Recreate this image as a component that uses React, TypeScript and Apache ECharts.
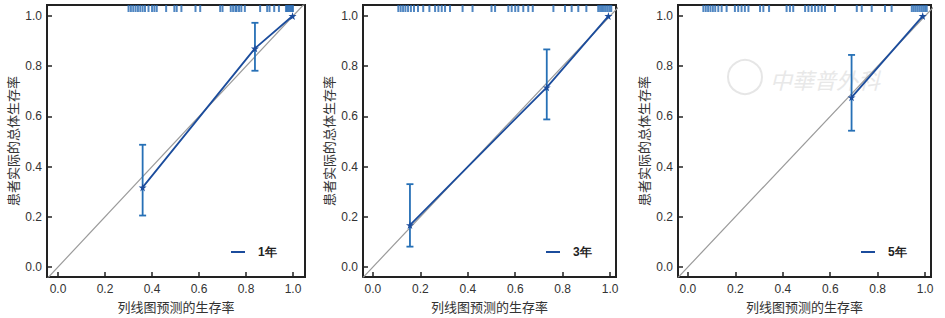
import React, { useEffect, useRef } from "react";
import * as echarts from "echarts";

// ---- data ----
const panelNames = ["1年", "3年", "5年"];

const pred1 = [0.36, 0.838, 0.998];
const obs1 = [0.317, 0.871, 1.0];
const lo1 = [0.205, 0.782];
const hi1 = [0.487, 0.973];

const pred3 = [0.156, 0.733, 0.993];
const obs3 = [0.167, 0.716, 1.0];
const lo3 = [0.081, 0.588];
const hi3 = [0.33, 0.867];

const pred5 = [0.69, 0.99];
const obs5 = [0.676, 1.0];
const lo5 = [0.543];
const hi5 = [0.845];

const rug1 = [0.3, 0.31, 0.32, 0.33, 0.34, 0.35, 0.36, 0.37, 0.385, 0.4, 0.41, 0.42, 0.46, 0.495, 0.505, 0.525, 0.585, 0.605, 0.69, 0.7, 0.735, 0.745, 0.755, 0.76, 0.77, 0.78, 0.795, 0.86, 0.89, 0.9, 0.92, 0.94, 0.97, 0.975, 0.98, 0.985, 0.99, 0.995, 1.0];
const rug3 = [0.107, 0.117, 0.127, 0.137, 0.148, 0.16, 0.173, 0.19, 0.212, 0.238, 0.262, 0.276, 0.29, 0.304, 0.325, 0.378, 0.42, 0.5, 0.515, 0.571, 0.585, 0.6, 0.613, 0.634, 0.655, 0.674, 0.761, 0.81, 0.838, 0.866, 0.9, 0.95, 0.958, 0.966, 0.974, 0.982, 0.99, 0.998, 1.005];
const rug5 = [0.065, 0.075, 0.085, 0.095, 0.105, 0.115, 0.128, 0.142, 0.163, 0.198, 0.212, 0.226, 0.24, 0.255, 0.304, 0.318, 0.342, 0.416, 0.43, 0.444, 0.494, 0.508, 0.522, 0.536, 0.55, 0.564, 0.578, 0.62, 0.712, 0.733, 0.775, 0.831, 0.859, 0.944, 0.952, 0.96, 0.968, 0.976, 0.984, 0.992, 1.0, 1.007];

const xMins = [-0.047, -0.042, -0.042];
const xMaxs = [1.051, 1.025, 1.025];
const yMin = -0.04;
const yMax = 1.044;

const LINE = "#1b4c9c";
const ERR = "#2670b6";
const RUG = "#2569b3";
const STAR = "path://M50,0 L61,35 L98,35 L68,57 L79,91 L50,70 L21,91 L32,57 L2,35 L39,35 Z";

const grids = [
  { left: 47, top: 5, width: 258, height: 272 },
  { left: 363, top: 5, width: 253, height: 272 },
  { left: 678, top: 5, width: 253, height: 272 },
];
const legendPos = [
  { left: 231, top: 246 },
  { left: 546, top: 246 },
  { left: 861, top: 246 },
];

const fmt = (v: number) =>
  Math.abs(v * 5 - Math.round(v * 5)) < 1e-6 ? v.toFixed(1) : "";

export default function App() {
  const ref = useRef<HTMLDivElement>(null);
  useEffect(() => {
    if (!ref.current) return;
    const chart = echarts.init(ref.current, null, { renderer: "svg" });
    const preds = [pred1, pred3, pred5];
    const obss = [obs1, obs3, obs5];
    const los = [lo1, lo3, lo5];
    const his = [hi1, hi3, hi5];
    const rugs = [rug1, rug3, rug5];

    const series: any[] = [];
    for (let i = 0; i < 3; i++) {
      series.push({
        type: "line",
        xAxisIndex: i,
        yAxisIndex: i,
        data: [[-0.2, -0.2], [1.2, 1.2]],
        showSymbol: false,
        symbol: "none",
        lineStyle: { color: "#9a9a9a", width: 1.2 },
        silent: true,
        clip: true,
        z: 1,
      });
      series.push({
        type: "custom",
        xAxisIndex: i,
        yAxisIndex: i,
        data: los[i].map((l, k) => [preds[i][k], l, his[i][k]]),
        encode: { x: 0, y: [1, 2] },
        renderItem: (params: any, api: any) => {
          const x = api.value(0);
          const p1 = api.coord([x, api.value(2)]);
          const p2 = api.coord([x, api.value(1)]);
          const w = 3.5;
          const style = { stroke: ERR, lineWidth: 1.8 };
          return {
            type: "group",
            children: [
              { type: "line", shape: { x1: p1[0], y1: p1[1], x2: p2[0], y2: p2[1] }, style },
              { type: "line", shape: { x1: p1[0] - w, y1: p1[1], x2: p1[0] + w, y2: p1[1] }, style },
              { type: "line", shape: { x1: p2[0] - w, y1: p2[1], x2: p2[0] + w, y2: p2[1] }, style },
            ],
          };
        },
        z: 2,
      });
      series.push({
        type: "line",
        name: panelNames[i],
        xAxisIndex: i,
        yAxisIndex: i,
        data: preds[i].map((p, k) => [p, obss[i][k]]),
        symbol: STAR,
        symbolSize: 8,
        itemStyle: { color: LINE },
        lineStyle: { color: LINE, width: 1.8 },
        z: 3,
      });
      series.push({
        type: "scatter",
        xAxisIndex: i,
        yAxisIndex: i,
        data: rugs[i].map((r) => [r, 1.03]),
        symbol: "rect",
        symbolSize: [2, 7],
        itemStyle: { color: RUG },
        silent: true,
        z: 2,
      });
    }

    const axisFont = { fontFamily: "Liberation Sans", fontSize: 12, color: "#333" };
    const nameFont = { fontFamily: "Noto Sans CJK SC", fontSize: 13, color: "#333" };
    const tick = { show: true, inside: true, length: 5, lineStyle: { color: "#222", width: 1.5 } };

    chart.setOption({
      animation: false,
      backgroundColor: "#fff",
      grid: grids.map((g) => ({ ...g, show: true, borderColor: "#222", borderWidth: 2, containLabel: false })),
      xAxis: [0, 1, 2].map((i) => ({
        type: "value",
        gridIndex: i,
        min: xMins[i],
        max: xMaxs[i],
        splitNumber: 5,
        name: "列线图预测的生存率",
        nameLocation: "middle",
        nameGap: 19,
        nameTextStyle: nameFont,
        axisLine: { show: false, onZero: false },
        axisTick: tick,
        axisLabel: { ...axisFont, margin: 6, formatter: fmt },
        splitLine: { show: false },
      })),
      yAxis: [0, 1, 2].map((i) => ({
        type: "value",
        gridIndex: i,
        min: yMin,
        max: yMax,
        splitNumber: 5,
        name: "患者实际的总体生存率",
        nameLocation: "middle",
        nameRotate: 90,
        nameGap: 28,
        nameTextStyle: nameFont,
        axisLine: { show: false, onZero: false },
        axisTick: tick,
        axisLabel: { ...axisFont, margin: 5, formatter: fmt },
        splitLine: { show: false },
      })),
      legend: [0, 1, 2].map((i) => ({
        data: [panelNames[i]],
        left: legendPos[i].left,
        top: legendPos[i].top,
        padding: 0,
        icon: "rect",
        itemWidth: 14,
        itemHeight: 2,
        selectedMode: false,
        textStyle: { fontFamily: "Liberation Sans", fontSize: 12, fontWeight: "bold", color: "#222", padding: [0, 0, 0, 8] },
      })),
      graphic: [
        {
          type: "circle",
          shape: { cx: 745, cy: 77, r: 17 },
          style: { fill: "none", stroke: "#e6e6e6", lineWidth: 2 },
          silent: true,
        },
        {
          type: "text",
          x: 770,
          y: 68,
          style: { text: "中華普外科", fill: "#e8e8e8", font: "italic 22px 'Noto Sans CJK TC'" },
          silent: true,
        },
      ],
      series,
    });
    return () => chart.dispose();
  }, []);
  return (
    <div
      ref={ref}
      style={{ position: "absolute", left: 0, top: 0, width: 945, height: 318 }}
    />
  );
}
